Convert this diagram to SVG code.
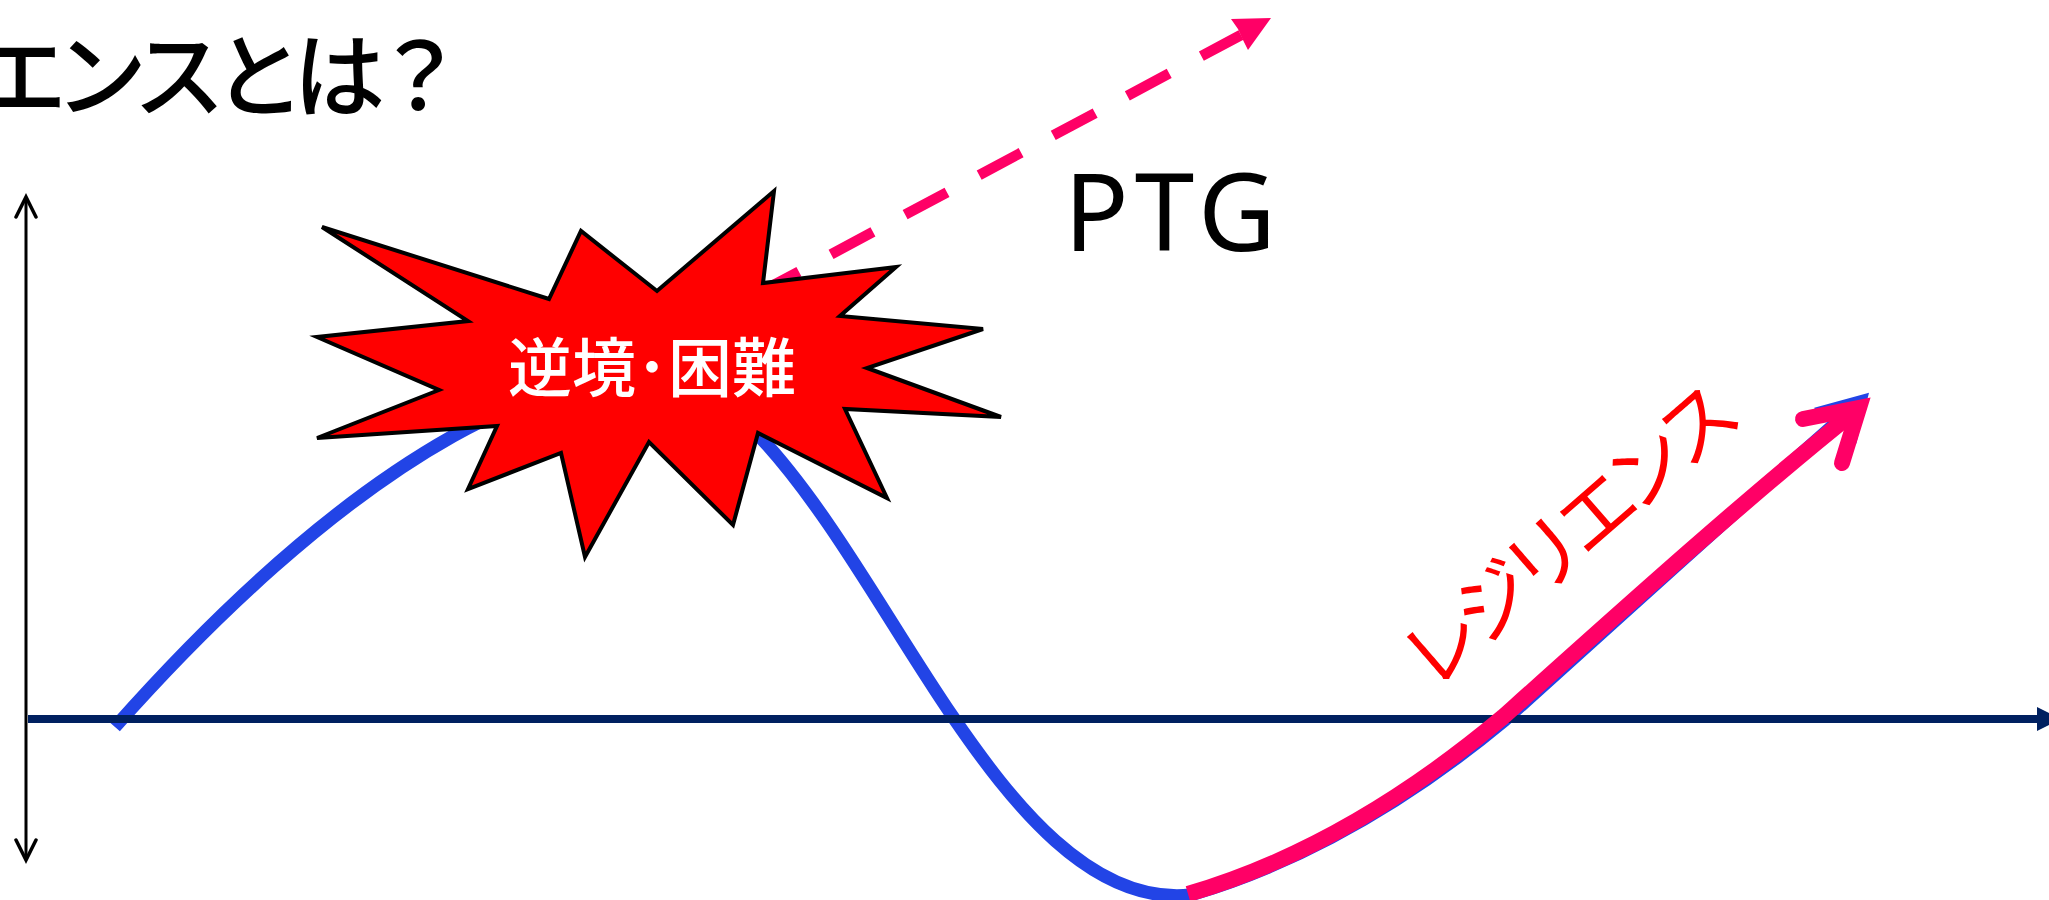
<svg xmlns="http://www.w3.org/2000/svg" width="2049" height="900" viewBox="0 0 2049 900">
<style>
.cjk{font-family:"Noto Sans CJK JP","Noto Sans",sans-serif}
.blue{fill:none;stroke:#2244E6;stroke-width:13}
.pink{fill:none;stroke:#FF0066;stroke-width:16}
</style>
<defs>
<marker id="open" markerUnits="userSpaceOnUse" markerWidth="30" markerHeight="30" refX="22" refY="12" orient="auto-start-reverse" viewBox="0 0 30 30">
<path d="M2,2 L22,12 L2,22" fill="none" stroke="#000" stroke-width="3.5" stroke-linecap="round"/>
</marker>
</defs>
<rect width="2049" height="900" fill="#fff"/>
<g id="connectors">
<path id="dashed" d="M757,294 L1241,35" fill="none" stroke="#FF0066" stroke-width="10.5" stroke-dasharray="47.5 36.5"/>
<polygon points="1231,19 1271,18 1248,50 1243,40 1238,29" fill="#FF0066"/>
<path id="blue-curve" class="blue" d="M115,727 C210,620 330,505 453,436 C530,393 670,340 760,437 C830,512 890,625 953,717 C1010,800 1090,905 1190,895 C1270,872 1381,823 1505,720 C1622,615 1751,497 1860,402"/>
<path class="blue" d="M1816,414 L1860,402 L1850,442"/>
<path id="x-axis" d="M28,719 H2040" stroke="#002060" stroke-width="8" fill="none"/>
<polygon points="2037,707 2061,719 2037,731" fill="#002060"/>
<path id="y-axis" d="M26,197 V860" stroke="#000" stroke-width="3" fill="none" marker-start="url(#open)" marker-end="url(#open)"/>
<path id="pink-curve" class="pink" d="M1188,894 C1270,870 1380,820 1503,717 C1620,612 1750,495 1858,409"/>
<path class="pink" d="M1803,419 L1859,408 L1842,463" stroke-linecap="round" stroke-linejoin="miter"/>
</g>
<g id="title"><text class="cjk" x="-25" y="110" font-size="92" font-weight="500" letter-spacing="-12" fill="#000">エンスとは？</text></g>
<g id="ptg"><text x="1064" y="251" font-family="'Noto Sans',sans-serif" font-size="107" letter-spacing="6" fill="#000">PTG</text></g>
<g id="resilience"><text class="cjk" transform="translate(1585,559) rotate(-41)" x="0" y="0" text-anchor="middle" font-size="78" letter-spacing="-10" fill="#FF0000">レジリエンス</text></g>
<g id="adversity">
<polygon points="322,227 549,299 581,231 657,291 774,191 763,283 896,267 840,316 983,329 867,368 1001,417 845,409 887,498 758,433 733,525 649,442 585,557 561,453 468,489 497,426 317,438 439,390 317,337 468,321" fill="#FF0000" stroke="#000" stroke-width="4"/>
<text class="cjk" x="508" y="391" font-size="64" font-weight="500" fill="#fff">逆境･困難</text>
</g>
</svg>
